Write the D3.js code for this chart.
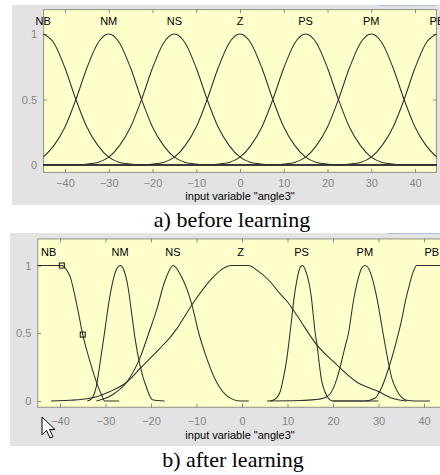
<!DOCTYPE html>
<html><head><meta charset="utf-8">
<script src="https://cdn.jsdelivr.net/npm/d3@7"></script>
<style>
html,body{margin:0;padding:0;background:#fff;}
svg{display:block;}
.tick text{font-family:"Liberation Sans",Arial,sans-serif;font-size:11px;fill:#858585;}
.tick line{stroke:#8a8a8a;}
</style></head>
<body>
<svg id="c" width="440" height="475"></svg>
<script>
// ---------- data ----------
const mfNames = ["NB","NM","NS","Z","PS","PM","PB"];
const xTicks = [-40,-30,-20,-10,0,10,20,30,40];
const yTicks = [0,0.5,1];
const xLabel = 'input variable "angle3"';
const captions = ["a) before learning","b) after learning"];

// before learning: membership curves [x, mu]
const beforeNB = [[-45,1],[-42.5,0.93],[-40,0.74],[-37.5,0.5],[-35,0.29],[-32.5,0.15],[-30,0.06],[-27.5,0.02],[-25,0.007],[-22.5,0],[45,0]];
const beforeNM = [[-45,0.06],[-42.5,0.15],[-40,0.29],[-37.5,0.5],[-35,0.74],[-32.5,0.93],[-30,1],[-27.5,0.93],[-25,0.74],[-22.5,0.5],[-20,0.29],[-17.5,0.15],[-15,0.06],[-12.5,0.02],[-10,0.007],[-7.5,0],[45,0]];
const beforeNS = [[-45,0],[-37.5,0],[-35,0.007],[-32.5,0.02],[-30,0.06],[-27.5,0.15],[-25,0.29],[-22.5,0.5],[-20,0.74],[-17.5,0.93],[-15,1],[-12.5,0.93],[-10,0.74],[-7.5,0.5],[-5,0.29],[-2.5,0.15],[0,0.06],[2.5,0.02],[5,0.007],[7.5,0],[45,0]];
const beforeZ  = [[-45,0],[-22.5,0],[-20,0.007],[-17.5,0.02],[-15,0.06],[-12.5,0.15],[-10,0.29],[-7.5,0.5],[-5,0.74],[-2.5,0.93],[0,1],[2.5,0.93],[5,0.74],[7.5,0.5],[10,0.29],[12.5,0.15],[15,0.06],[17.5,0.02],[20,0.007],[22.5,0],[45,0]];
const beforePS = [[-45,0],[-7.5,0],[-5,0.007],[-2.5,0.02],[0,0.06],[2.5,0.15],[5,0.29],[7.5,0.5],[10,0.74],[12.5,0.93],[15,1],[17.5,0.93],[20,0.74],[22.5,0.5],[25,0.29],[27.5,0.15],[30,0.06],[32.5,0.02],[35,0.007],[37.5,0],[45,0]];
const beforePM = [[-45,0],[7.5,0],[10,0.007],[12.5,0.02],[15,0.06],[17.5,0.15],[20,0.29],[22.5,0.5],[25,0.74],[27.5,0.93],[30,1],[32.5,0.93],[35,0.74],[37.5,0.5],[40,0.29],[42.5,0.15],[45,0.06]];
const beforePB = [[-45,0],[22.5,0],[25,0.007],[27.5,0.02],[30,0.06],[32.5,0.15],[35,0.29],[37.5,0.5],[40,0.74],[42.5,0.93],[45,1]];
const beforeLabelX = [-45,-30,-15,0,15,30,45];

// after learning
const afterNB = [[-45,1],[-42,1],[-39.6,1],[-38.4,0.96],[-37.8,0.92],[-36.3,0.71],[-35,0.49],[-33.4,0.29],[-31.9,0.13],[-30.8,0.04],[-30.2,0],[-27,0]];
const afterNM = [[-34,0],[-33,0.02],[-32,0.11],[-31.2,0.28],[-30.1,0.53],[-29.3,0.72],[-28.6,0.85],[-27.6,0.97],[-26.7,1],[-25.8,0.95],[-25,0.83],[-24.3,0.66],[-23.5,0.46],[-22.4,0.26],[-20.9,0.09],[-19.7,0.01],[-17,0]];
const afterNS = [[-32,0],[-30,0.02],[-28.3,0.05],[-25.3,0.14],[-22.4,0.32],[-20.5,0.5],[-18.7,0.68],[-17,0.88],[-15.1,1],[-13.5,0.93],[-11,0.71],[-9.5,0.5],[-8.5,0.39],[-5.6,0.14],[-3,0.03],[-0.4,0],[1.5,0]];
const afterZ  = [[-42,0],[-38,0.005],[-33.4,0.02],[-29,0.07],[-25.3,0.14],[-22.4,0.24],[-18,0.39],[-15.8,0.47],[-14.4,0.53],[-11,0.71],[-7,0.89],[-4.5,0.97],[-2.3,1],[1.4,1],[3.5,0.96],[6.2,0.88],[8.4,0.79],[9.8,0.74],[11.3,0.67],[12.7,0.6],[16.3,0.42],[20.1,0.29],[25.2,0.14],[30,0.07],[33,0.02],[36.2,0]];
const afterPS = [[6.2,0],[7.5,0.02],[8.4,0.07],[9.1,0.17],[9.8,0.3],[10.3,0.43],[10.9,0.6],[11.4,0.75],[12,0.88],[12.6,0.97],[13.3,1],[14,0.96],[14.8,0.86],[15.3,0.75],[15.7,0.62],[16.1,0.5],[16.5,0.41],[17,0.27],[17.5,0.15],[18.2,0.07],[19,0.02],[20,0],[30,0]];
const afterPM = [[5.5,0],[12.7,0.003],[16,0.01],[17.8,0.02],[19.3,0.05],[20.5,0.13],[21.5,0.24],[22.5,0.38],[23.4,0.5],[24.5,0.74],[25.5,0.9],[26.3,0.98],[27,1],[27.8,0.98],[28.5,0.92],[29.4,0.8],[30.2,0.66],[31,0.5],[32.2,0.28],[33,0.16],[34,0.08],[35,0.03],[36.2,0.005],[38,0],[41.3,0]];
const afterPB = [[20,0],[27,0],[29.2,0.02],[30.7,0.1],[32.4,0.26],[34,0.45],[35.1,0.6],[35.8,0.72],[36.9,0.87],[37.7,0.96],[38.4,1],[45,1]];
const afterLabelX = [-42.5,-26.8,-15.2,-0.3,13.1,27,41.7];
const afterMarkers = [[-39.6,1],[-35,0.49]];

// ---------- drawing ----------
const svg = d3.select("#c");
const FONT = '"Liberation Sans",Arial,sans-serif';

function panel(cfg){
  const g = svg.append("g");
  g.append("rect").attr("x",cfg.bg[0]).attr("y",cfg.bg[1]).attr("width",cfg.bg[2]).attr("height",cfg.bg[3]).attr("fill","#e3e3e3");
  const x = d3.scaleLinear().domain([-45,45]).range(cfg.xr);
  const y = d3.scaleLinear().domain([0,1]).range(cfg.yr);
  const top = y(cfg.ylim[1]), bot = y(cfg.ylim[0]);
  const left = x(-45), right = x(45);
  g.append("rect").attr("x",left).attr("y",top).attr("width",right-left).attr("height",bot-top).attr("fill","#ffffcc");
  const cid = "clip"+cfg.id;
  svg.append("clipPath").attr("id",cid).append("rect").attr("x",left).attr("y",top).attr("width",right-left).attr("height",bot-top);

  // axes
  const ax = g.append("g").attr("transform",`translate(0,${bot})`).call(d3.axisBottom(x).tickValues(xTicks).tickSize(-4).tickPadding(cfg.xpad).tickFormat(d3.format("d")));
  const axT = g.append("g").attr("transform",`translate(0,${top})`).call(d3.axisTop(x).tickValues(xTicks).tickSize(-4).tickFormat(""));
  const ay = g.append("g").attr("transform",`translate(${left},0)`).call(d3.axisLeft(y).tickValues(yTicks).tickSize(-4).tickPadding(6).tickFormat(d=>d));
  const ayR = g.append("g").attr("transform",`translate(${right},0)`).call(d3.axisRight(y).tickValues(yTicks).tickSize(-4).tickFormat(""));
  [ax,axT,ay,ayR].forEach(a=>{a.select(".domain").remove(); a.attr("font-family",null).attr("font-size",null);});
  g.append("rect").attr("x",left+0.5).attr("y",top+0.5).attr("width",right-left-1).attr("height",bot-top-1).attr("fill","none").attr("stroke","#8c8c8c");

  const line = d3.line().x(d=>x(d[0])).y(d=>y(d[1])).curve(d3.curveMonotoneX);
  const cg = g.append("g").attr("clip-path",`url(#${cid})`);
  cfg.curves.forEach(c=>{
    cg.append("path").attr("d",line(c)).attr("fill","none").attr("stroke","#2e2e2e").attr("stroke-width",1.05);
  });
  if(cfg.markers){
    cg.selectAll("rect.m").data(cfg.markers).enter().append("rect").attr("class","m")
      .attr("x",d=>x(d[0])-2.5).attr("y",d=>y(d[1])-2.5).attr("width",5).attr("height",5)
      .attr("fill","none").attr("stroke","#111").attr("stroke-width",1);
  }
  g.selectAll("text.mf").data(mfNames).enter().append("text").attr("class","mf")
    .attr("x",(d,i)=>x(cfg.labelX[i])).attr("y",y(1.1)).attr("dy","0.35em")
    .attr("text-anchor","middle").attr("font-family",FONT).attr("font-size",11).attr("fill","#000").text(d=>d);
  g.append("text").attr("x",240).attr("y",cfg.xlabY).attr("text-anchor","middle")
    .attr("font-family",FONT).attr("font-size",11).attr("fill","#000").text(xLabel);
  svg.append("text").attr("x",cfg.capX).attr("y",cfg.capY).attr("text-anchor","middle")
    .attr("font-family",'"Liberation Serif","Times New Roman",serif').attr("font-size",22).attr("fill","#000").text(cfg.caption);
  return {x,y};
}

panel({id:"a", bg:[12,5,428,200], xr:[43.1,436.9], yr:[165,34], ylim:[-0.06,1.19], xpad:6, xlabY:200,
  curves:[beforeNB,beforeNM,beforeNS,beforeZ,beforePS,beforePM,beforePB], labelX:beforeLabelX,
  caption:captions[0], capX:232, capY:227});
panel({id:"b", bg:[10,233,430,213], xr:[37.25,446.75], yr:[401,265.5], ylim:[-0.05,1.2], xpad:9, xlabY:439,
  curves:[afterNB,afterNM,afterNS,afterZ,afterPS,afterPM,afterPB], labelX:afterLabelX, markers:afterMarkers,
  caption:captions[1], capX:233, capY:467});

// window decorations
svg.append("line").attr("x1",378).attr("x2",436).attr("y1",5.5).attr("y2",5.5).attr("stroke","#a9bfdc");
svg.append("line").attr("x1",387).attr("x2",440).attr("y1",233.5).attr("y2",233.5).attr("stroke","#a9bfdc");
// mouse cursor
svg.append("path").attr("d","M42,417 L42,435 L46.5,430.5 L50,438 L53,436.8 L49.5,429.5 L55,429.5 Z")
  .attr("fill","#fff").attr("stroke","#000").attr("stroke-width",1).attr("stroke-linejoin","miter");
</script>
</body></html>
